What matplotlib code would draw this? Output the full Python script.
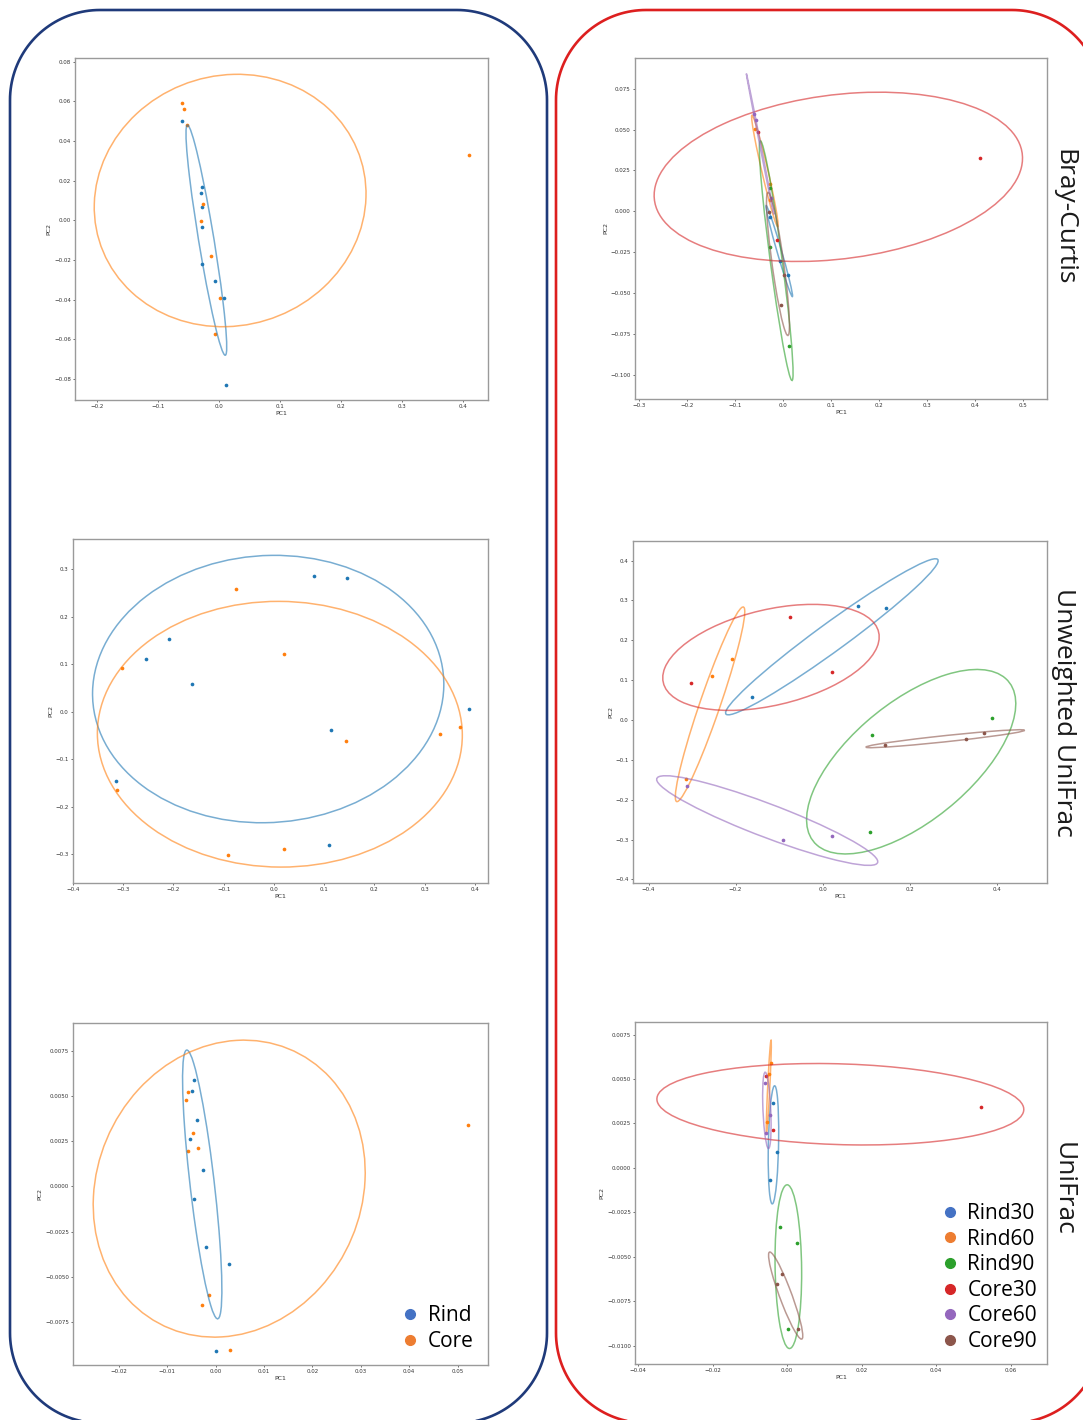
import numpy as np
import matplotlib
matplotlib.use("Agg")
import matplotlib.pyplot as plt
import matplotlib.transforms as transforms
from matplotlib.patches import Ellipse, Polygon
from matplotlib.lines import Line2D
from matplotlib.ticker import MultipleLocator

groups = ["Rind30", "Rind60", "Rind90", "Core30", "Core60", "Core90"]

# PCoA coordinates, one inner list per group (order as in `groups`)
bc_pc1 = [[-0.0278, -0.0060, 0.0090], [-0.0595, -0.0273, -0.0278], [-0.0284, -0.0278, 0.0125],
          [0.4097, -0.0518, -0.0131], [-0.0610, -0.0573, -0.0262], [-0.0289, 0.0016, -0.0055]]
bc_pc2 = [[-0.0035, -0.0304, -0.0392], [0.0503, 0.0170, 0.0067], [0.0140, -0.0220, -0.0828],
          [0.0328, 0.0483, -0.0178], [0.0594, 0.0562, 0.0081], [-0.0002, -0.0392, -0.0574]]

uw_pc1 = [[-0.163, 0.0802, 0.1458], [-0.208, -0.254, -0.314], [0.388, 0.1127, 0.1087],
          [-0.302, -0.0749, 0.0205], [-0.312, -0.0908, 0.0205], [0.143, 0.330, 0.371]]
uw_pc2 = [[0.058, 0.287, 0.281], [0.154, 0.111, -0.147], [0.0056, -0.0387, -0.281],
          [0.092, 0.258, 0.121], [-0.166, -0.301, -0.290], [-0.062, -0.047, -0.032]]

uf_pc1 = [[-0.00386, -0.00269, -0.00455], [-0.00448, -0.00500, -0.00538], [-0.00200, 0.00276, 0.00014],
          [0.0522, -0.00372, -0.00566], [-0.00607, -0.00462, -0.00572], [-0.00145, -0.00283, 0.00303]]
uf_pc2 = [[0.00368, 0.00092, -0.00070], [0.00589, 0.00528, 0.00261], [-0.00335, -0.00425, -0.00906],
          [0.00341, 0.00215, 0.00519], [0.00479, 0.00296, 0.00197], [-0.00598, -0.00652, -0.00904]]

metric_names = ["Bray-Curtis", "Unweighted UniFrac", "UniFrac"]
legend_colors = ["#4472C4", "#ED7D31", "#2CA02C", "#D62728", "#9467BD", "#8C564B"]

W, H = 1083, 1420
fig = plt.figure(figsize=(W / 100, H / 100), dpi=100)

# background layer in pixel units for the rounded frames and side labels
bg = fig.add_axes([0, 0, 1, 1], zorder=0)
bg.set_xlim(0, W)
bg.set_ylim(H, 0)
bg.axis("off")


def rounded_frame(x0, y0, x1, y1, rad, color):
    t = np.linspace(0, np.pi / 2, 40)
    pts = []
    # corners: top-left, top-right, bottom-right, bottom-left (y grows downward)
    for cx, cy, a0 in [(x0 + rad, y0 + rad, np.pi), (x1 - rad, y0 + rad, 1.5 * np.pi),
                       (x1 - rad, y1 - rad, 0.0), (x0 + rad, y1 - rad, 0.5 * np.pi)]:
        pts += list(zip(cx + rad * np.cos(a0 + t), cy + rad * np.sin(a0 + t)))
    bg.add_patch(Polygon(pts, closed=True, fill=False, ec=color, lw=1.9, joinstyle="round"))


rounded_frame(10, 10, 547, 1423, 90, "#1f3a7a")
rounded_frame(556, 10, 1102, 1423, 90, "#dd1f1f")
for name, yc in zip(metric_names, [217, 712, 1189]):
    bg.text(1057, yc, name, rotation=270, rotation_mode="anchor", ha="center", va="baseline",
            fontsize=19, family="Open Sans", color="#1a1a1a")


def conf_ellipse(ax, x, y, color, n_std=1.5):
    x = np.asarray(x)
    y = np.asarray(y)
    cov = np.cov(x, y)
    r = cov[0, 1] / np.sqrt(cov[0, 0] * cov[1, 1])
    ell = Ellipse((0, 0), width=2 * np.sqrt(1 + r), height=2 * np.sqrt(1 - r),
                  fc="none", ec=color, lw=1.1, alpha=0.6)
    tr = (transforms.Affine2D().rotate_deg(45)
          .scale(np.sqrt(cov[0, 0]) * n_std, np.sqrt(cov[1, 1]) * n_std)
          .translate(x.mean(), y.mean()))
    ell.set_transform(tr + ax.transData)
    ax.add_patch(ell)


def make_axes(px):
    # px = (left, top, right, bottom) in pixels
    l, t, r, b = px
    ax = fig.add_axes([l / W, (H - b) / H, (r - l) / W, (b - t) / H], zorder=1)
    for s in ax.spines.values():
        s.set_color("#9a9a9a")
        s.set_linewidth(1.0)
    ax.tick_params(labelsize=4, length=1.5, width=0.5, pad=1.5, colors="#333333")
    ax.set_xlabel("PC1", fontsize=4.5, labelpad=1.5, color="#333333")
    ax.set_ylabel("PC2", fontsize=4.5, labelpad=1.5, color="#333333")
    return ax


def left_panel(px, pc1, pc2, xlim, ylim, xstep, ystep):
    ax = make_axes(px)
    rx = sum(pc1[:3], [])
    ry = sum(pc2[:3], [])
    cx = sum(pc1[3:], [])
    cy = sum(pc2[3:], [])
    ax.scatter(rx, ry, s=7, color="C0", lw=0)
    ax.scatter(cx, cy, s=7, color="C1", lw=0)
    conf_ellipse(ax, rx, ry, "C0")
    conf_ellipse(ax, cx, cy, "C1")
    ax.set_xlim(*xlim)
    ax.set_ylim(*ylim)
    ax.xaxis.set_major_locator(MultipleLocator(xstep))
    ax.yaxis.set_major_locator(MultipleLocator(ystep))
    return ax


def right_panel(px, pc1, pc2, xlim, ylim, xstep, ystep):
    ax = make_axes(px)
    for i in range(len(groups)):
        ax.scatter(pc1[i], pc2[i], s=7, color="C%d" % i, lw=0)
        conf_ellipse(ax, pc1[i], pc2[i], "C%d" % i)
    ax.set_xlim(*xlim)
    ax.set_ylim(*ylim)
    ax.xaxis.set_major_locator(MultipleLocator(xstep))
    ax.yaxis.set_major_locator(MultipleLocator(ystep))
    return ax


left_panel((75, 58, 488, 400), bc_pc1, bc_pc2, (-0.2355, 0.441), (-0.0906, 0.0819), 0.1, 0.02)
right_panel((635, 58, 1047, 399), bc_pc1, bc_pc2, (-0.309, 0.55), (-0.115, 0.0939), 0.1, 0.025)
left_panel((73, 539, 488, 883), uw_pc1, uw_pc2, (-0.400, 0.426), (-0.361, 0.364), 0.1, 0.1)
right_panel((633, 541, 1047, 883), uw_pc1, uw_pc2, (-0.4356, 0.515), (-0.409, 0.449), 0.2, 0.1)
ax5 = left_panel((73, 1023, 488, 1365), uf_pc1, uf_pc2, (-0.0295, 0.0563), (-0.00985, 0.00902), 0.01, 0.0025)
ax6 = right_panel((635, 1022, 1047, 1364), uf_pc1, uf_pc2, (-0.0409, 0.0698), (-0.01103, 0.00821), 0.02, 0.0025)

# legends
h2 = [Line2D([], [], ls="none", marker="o", ms=7, color=c) for c in legend_colors[:2]]
ax5.legend(h2, ["Rind", "Core"], loc="lower right", bbox_to_anchor=(0.966, 0.038), frameon=False,
           prop={"family": "Open Sans", "size": 15}, handlelength=0.6, handletextpad=0.55,
           labelspacing=0.22, borderpad=0, borderaxespad=0)
h6 = [Line2D([], [], ls="none", marker="o", ms=7, color=c) for c in legend_colors]
ax6.legend(h6, groups, loc="lower right", bbox_to_anchor=(0.976, 0.035), frameon=False,
           prop={"family": "Open Sans", "size": 15}, handlelength=0.6, handletextpad=0.55,
           labelspacing=0.22, borderpad=0, borderaxespad=0)

fig.savefig("out.png", dpi=100)
